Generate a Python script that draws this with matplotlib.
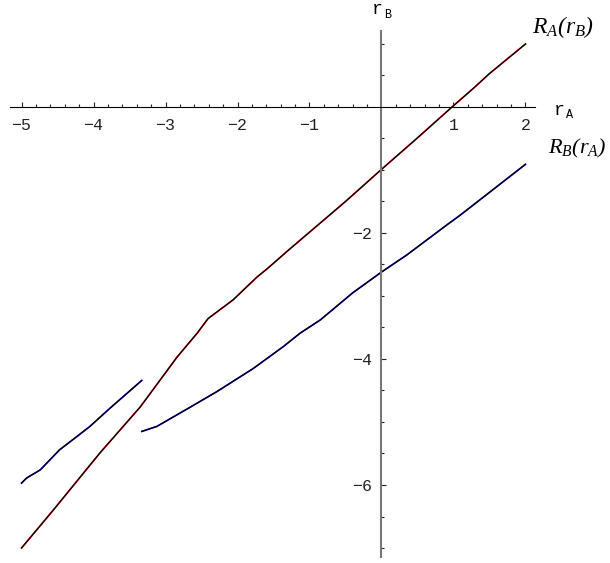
import numpy as np
import matplotlib
matplotlib.use('Agg')
import matplotlib.pyplot as plt
from matplotlib.ticker import FixedLocator

plt.rcParams['mathtext.fontset'] = 'custom'
plt.rcParams['mathtext.it'] = 'Liberation Serif:italic'
plt.rcParams['mathtext.rm'] = 'Liberation Serif:italic'

# R_A(r_B) curve
ra_x = [-5.0, -4.56, -3.91, -3.35, -2.84, -2.56, -2.41, -2.06, -1.73, -1.59,
        -1.30, -0.5, 0.0, 0.5, 0.98, 1.28, 1.5, 2.0]
ra_y = [-7.0, -6.40, -5.49, -4.76, -3.97, -3.59, -3.36, -3.06, -2.70, -2.57,
        -2.28, -1.5, -0.99, -0.49, 0.0, 0.30, 0.53, 1.0]

# R_B(r_A) curve, two branches
rb_left_x = [-5.0, -4.93, -4.74, -4.47, -4.23, -4.05, -3.77, -3.54, -3.40, -3.33]
rb_left_y = [-5.97, -5.89, -5.76, -5.44, -5.23, -5.07, -4.78, -4.55, -4.41, -4.34]
rb_right_x = [-3.33, -3.12, -2.71, -2.29, -1.78, -1.36, -1.13, -0.85, -0.40,
              0.0, 0.35, 0.91, 1.09, 2.0]
rb_right_y = [-5.15, -5.07, -4.80, -4.52, -4.15, -3.80, -3.59, -3.38, -2.95,
              -2.62, -2.35, -1.87, -1.72, -0.91]

x_major = [-5, -4, -3, -2, -1, 1, 2]
x_labels = ['\u22125', '\u22124', '\u22123', '\u22122', '\u22121', '1', '2']
y_major = [-6, -4, -2]
y_labels = ['\u22126', '\u22124', '\u22122']


def mono_label(ax, x, y, main, sub):
    t = ax.text(x, y, main, family='Liberation Mono', fontsize=13,
                ha='right', va='baseline')
    ax.annotate(sub, xy=(x, y), xycoords='data', xytext=(0.5, -2.5),
                textcoords='offset points', family='Liberation Mono',
                fontsize=8.5, ha='left', va='baseline')
    return t


def plot_reaction_curves():
    fig = plt.figure(figsize=(6.10, 5.63), dpi=100)
    ax = fig.add_axes([0, 0, 1, 1])
    ax.set_xlim(-5.299, 3.174)
    ax.set_ylim(-7.238, 1.698)

    ax.plot(ra_x, ra_y, color='red', lw=1.2)
    ax.plot(ra_x, ra_y, color='black', lw=0.9)
    for xs, ys in [(rb_left_x, rb_left_y), (rb_right_x, rb_right_y)]:
        ax.plot(xs, ys, color='blue', lw=1.2)
        ax.plot(xs, ys, color='black', lw=0.9)

    for side in ['top', 'right']:
        ax.spines[side].set_visible(False)
    ax.spines['left'].set_position(('data', 0))
    ax.spines['bottom'].set_position(('data', 0))
    ax.spines['left'].set_bounds(-7.15, 1.2)
    ax.spines['bottom'].set_bounds(-5.16, 2.13)
    ax.spines['left'].set_color('#777777')
    ax.spines['left'].set_linewidth(1.5)
    ax.spines['bottom'].set_linewidth(0.8)

    x_minor = [round(v, 1) for v in np.arange(-5.0, 2.11, 0.2)
               if abs(v - round(v)) > 1e-6]
    y_minor = [v for v in np.arange(-7.0, 1.01, 0.5)
               if v not in y_major and v != 0]
    ax.xaxis.set_major_locator(FixedLocator(x_major))
    ax.xaxis.set_minor_locator(FixedLocator(x_minor))
    ax.yaxis.set_major_locator(FixedLocator(y_major))
    ax.yaxis.set_minor_locator(FixedLocator(y_minor))
    ax.set_xticklabels(x_labels, family='Liberation Mono', fontsize=12)
    ax.set_yticklabels(y_labels, family='Liberation Mono', fontsize=12)
    ax.tick_params(axis='both', which='both', direction='in', width=0.8,
                   colors='#222222')
    ax.tick_params(axis='both', which='major', length=3.5)
    ax.tick_params(axis='both', which='minor', length=2.4)
    ax.tick_params(axis='x', which='major', pad=8)
    ax.tick_params(axis='y', which='major', pad=7)

    mono_label(ax, 0.02, 1.47, 'r', 'B')
    mono_label(ax, 2.55, -0.12, 'r', 'A')
    ax.text(2.52, 1.27, r'$R_A(r_B)$', ha='center', va='center', fontsize=17)
    ax.text(2.72, -0.66, r'$R_B(r_A)$', ha='center', va='center', fontsize=16)

    plt.savefig('out.png', dpi=100)


plot_reaction_curves()
